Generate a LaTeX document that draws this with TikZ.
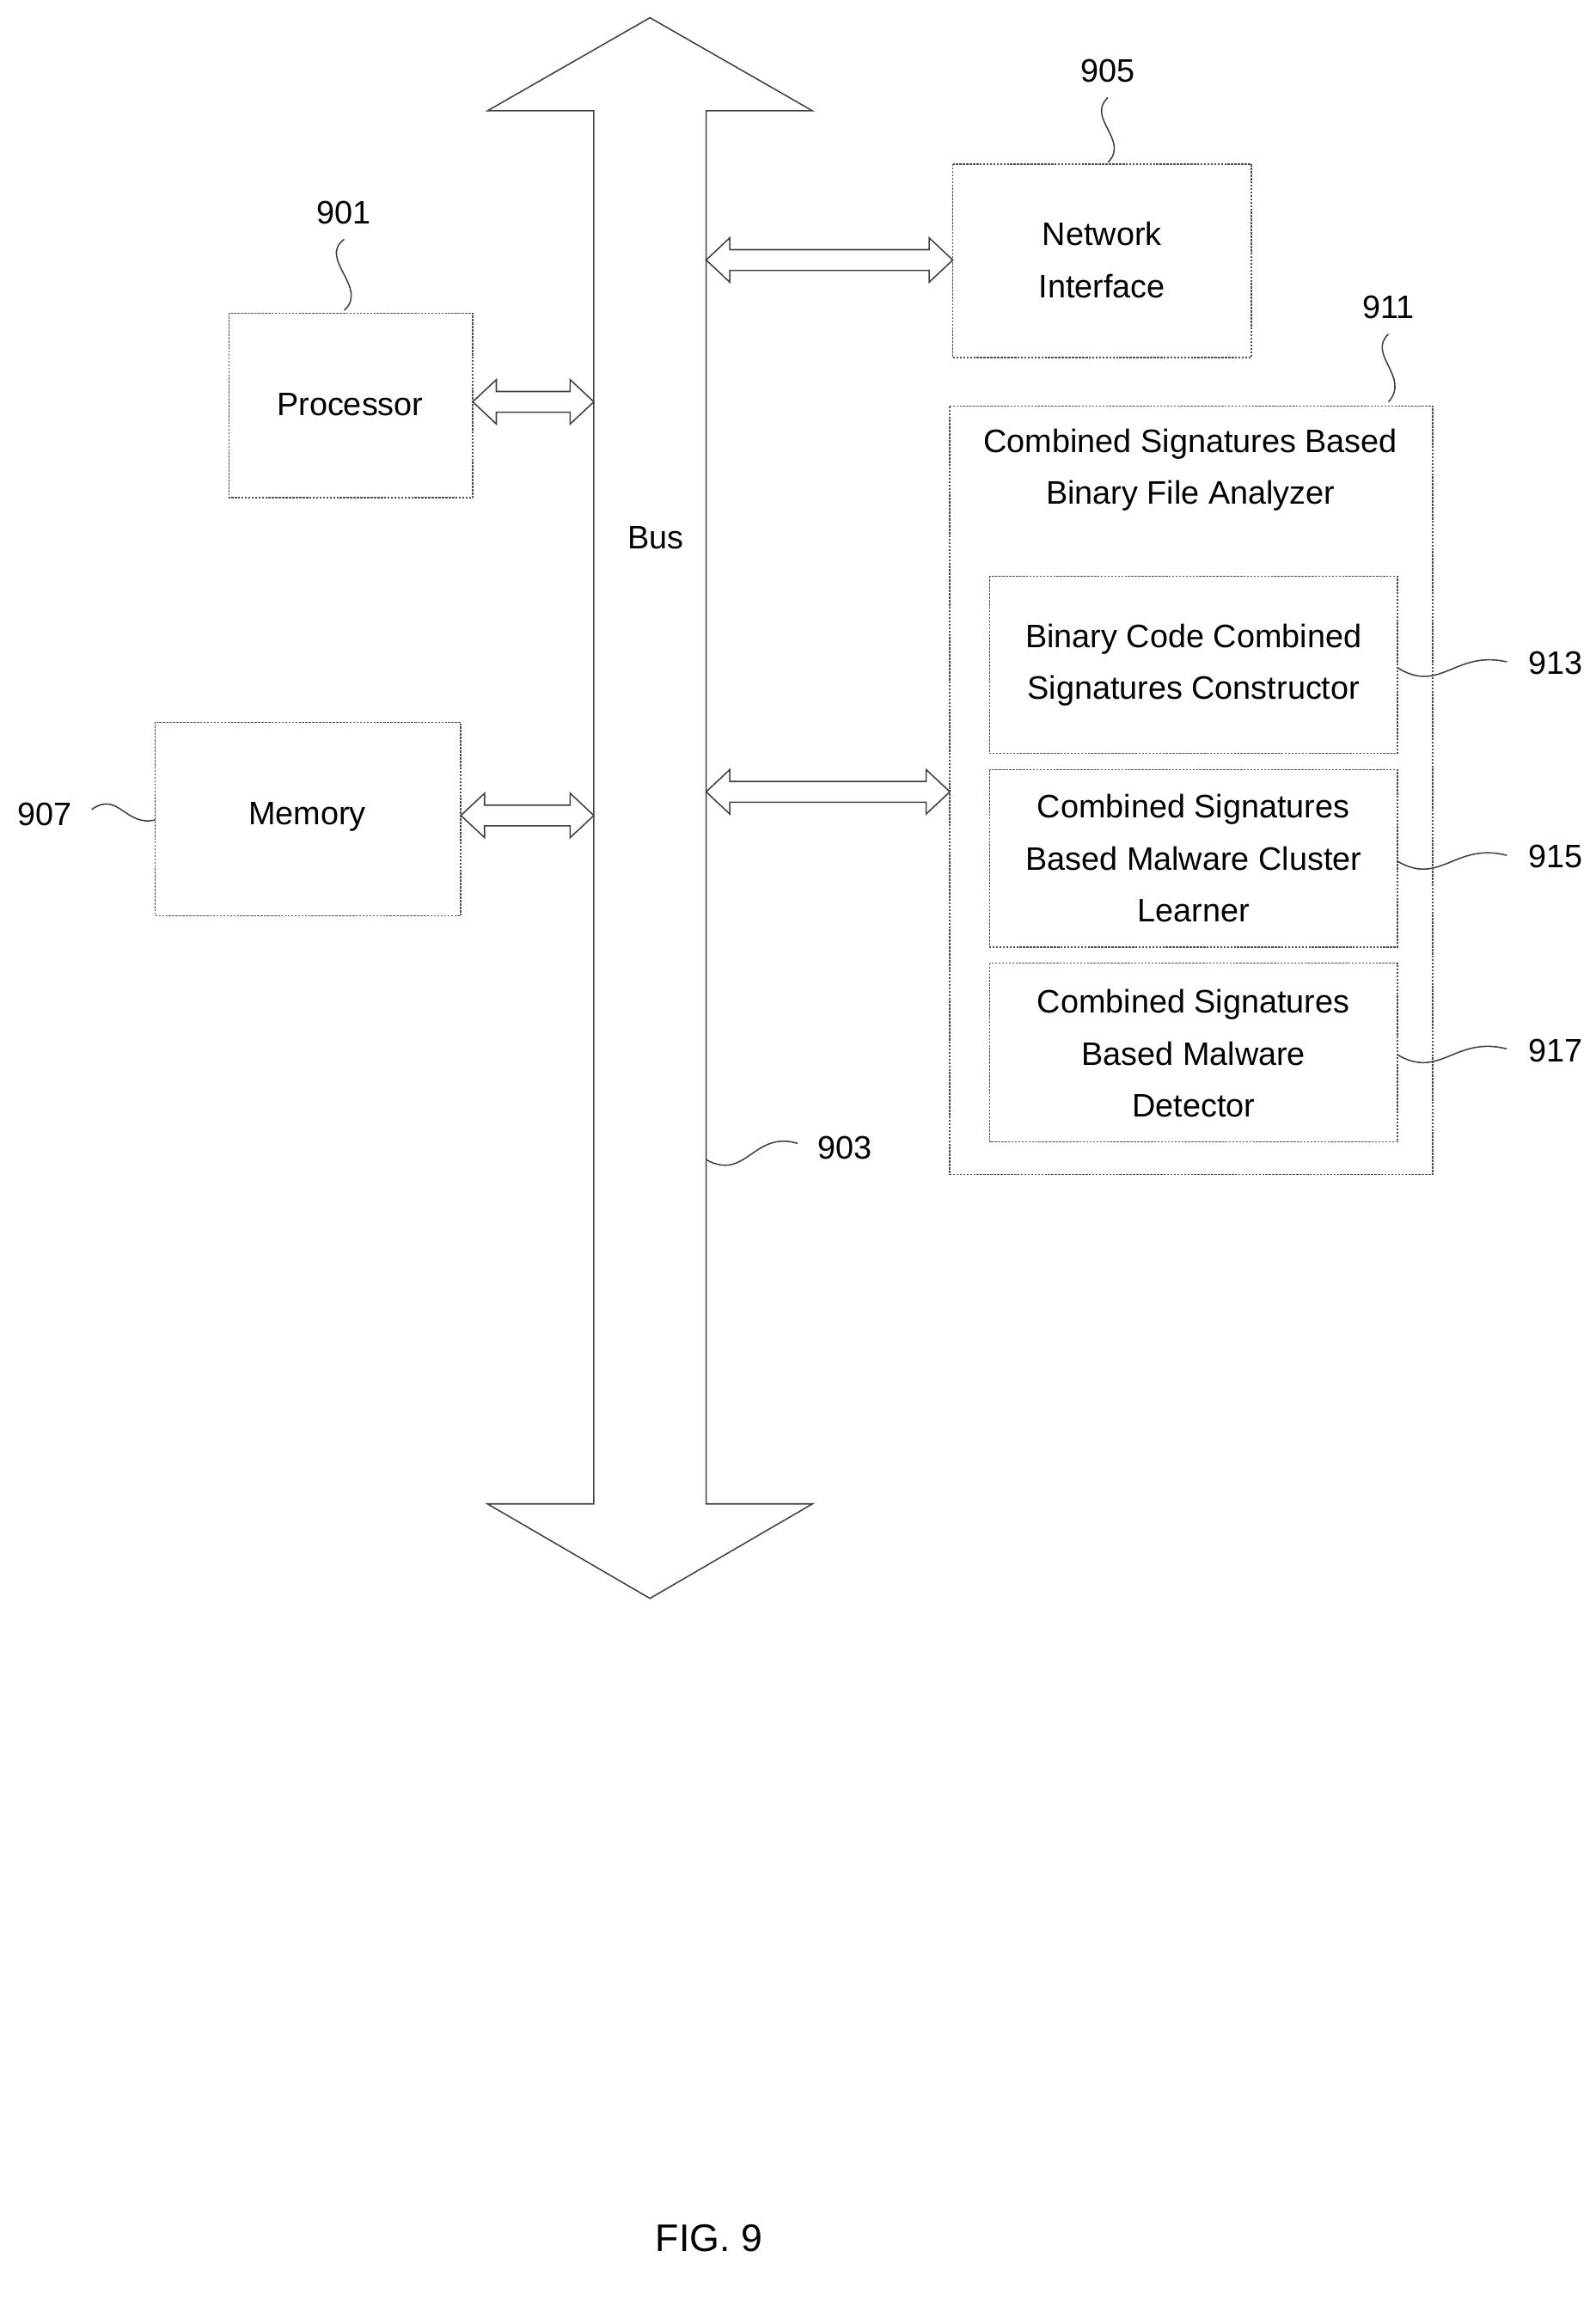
\documentclass[tikz,border=0pt]{standalone}
\usepackage{fontspec}
\setmainfont{Liberation Sans}
\begin{document}
\begin{tikzpicture}[x=1pt,y=-1pt,
  box/.style={draw=black!70,line width=0.9pt,dash pattern=on 1.5pt off 0.8pt},
  ln/.style={draw=black!75,line width=0.9pt},
  txt/.style={font=\fontsize{22}{35}\selectfont,align=center,inner sep=0pt},
  sq/.style={draw=black!75,line width=0.9pt}]
\useasboundingbox (0,0) rectangle (1080,1561);
% bus
\draw[ln] (440,12) -- (550,75) -- (478,75) -- (478,1018) -- (550,1018) -- (440,1082) -- (330,1018) -- (402,1018) -- (402,75) -- (330,75) -- cycle;
\node[txt] (bus) at (444,364) {Bus};
\newcommand\hollowarrow[3]{%
 \draw[ln] (#1,#3) -- (#1+16,#3-15) -- (#1+16,#3-7) -- (#2-16,#3-7) -- (#2-16,#3-15) -- (#2,#3) -- (#2-16,#3+15) -- (#2-16,#3+7) -- (#1+16,#3+7) -- (#1+16,#3+15) -- cycle;}
% boxes
\draw[box] (155,212) rectangle (320,337);
\node[txt] (proc) at (237,274) {Processor};
\draw[box] (105,489) rectangle (312,620);
\node[txt] (mem) at (208,553) {Memory};
\draw[box] (645,111) rectangle (847,242);
\node[txt] (net) at (746,176) {Network\\Interface};
\draw[box] (643,275) rectangle (970,795);
\node[txt] (an) at (806,318) {Combined Signatures Based\\Binary File Analyzer};
\draw[box] (670,390) rectangle (946,510);
\node[txt] (c1) at (808,450) {Binary Code Combined\\Signatures Constructor};
\draw[box] (670,521) rectangle (946,641);
\node[txt] (c2) at (808,581) {Combined Signatures\\Based Malware Cluster\\Learner};
\draw[box] (670,652) rectangle (946,773);
\node[txt] (c3) at (808,713) {Combined Signatures\\Based Malware\\Detector};
% arrows
\hollowarrow{320}{402}{272}
\hollowarrow{312}{402}{552}
\hollowarrow{478}{645}{176}
\hollowarrow{478}{643}{536}
% labels
\node[txt] (l901) at (233,144) {901};
\draw[sq] (233,162) .. controls (215,175) and (250,195) .. (233,210);
\node[txt] (l905) at (750,48) {905};
\draw[sq] (750,66) .. controls (735,80) and (765,95) .. (750,110);
\node[txt] (l911) at (940,208) {911};
\draw[sq] (940,226) .. controls (925,240) and (955,255) .. (940,272);
\node[txt] (l907) at (30,551) {907};
\draw[sq] (62,548) .. controls (80,535) and (85,560) .. (105,555);
\node[txt] (l913) at (1053,449) {913};
\draw[sq] (946,452) .. controls (975,470) and (985,440) .. (1020,448);
\node[txt] (l915) at (1053,580) {915};
\draw[sq] (946,583) .. controls (975,600) and (985,570) .. (1020,579);
\node[txt] (l917) at (1053,711) {917};
\draw[sq] (946,714) .. controls (975,731) and (985,701) .. (1020,710);
\node[txt] (l903) at (572,777) {903};
\draw[sq] (478,785) .. controls (505,800) and (510,765) .. (540,774);
\node[txt,font=\fontsize{26}{30}\selectfont] (fig) at (480,1515) {FIG. 9};
\end{tikzpicture}
\end{document}
